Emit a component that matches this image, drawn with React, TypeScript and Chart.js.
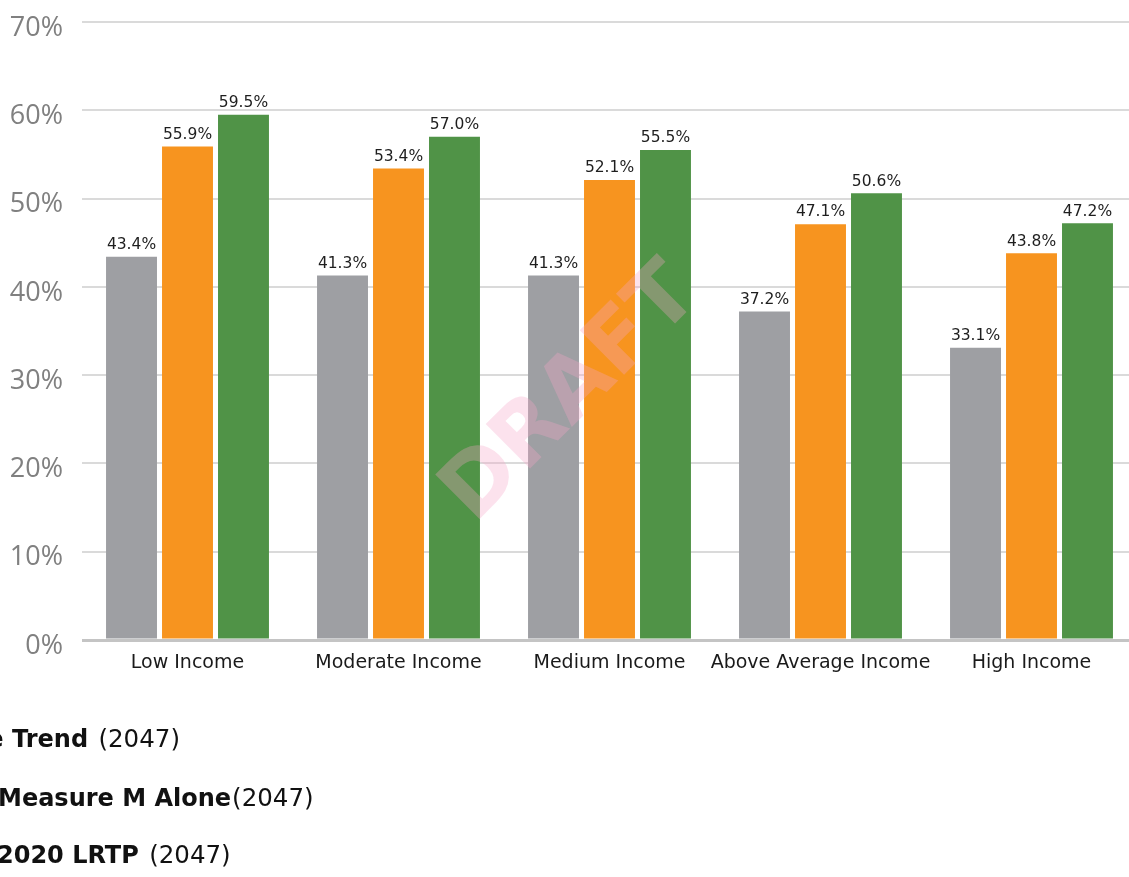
import React, { useEffect, useRef } from "react";
import { Chart, registerables } from "chart.js";

Chart.register(...registerables);

const categories = [
  "Low Income",
  "Moderate Income",
  "Medium Income",
  "Above Average Income",
  "High Income",
];
const baselineValues = [43.4, 41.3, 41.3, 37.2, 33.1];
const measureMValues = [55.9, 53.4, 52.1, 47.1, 43.8];
const lrtpValues = [59.5, 57.0, 55.5, 50.6, 47.2];
const yMin = 0;
const yMax = 70;
const yStep = 10;
const legendBold = ["Baseline Trend", "Measure M Alone", "2020 LRTP"];
const legendSep = [" ", "", " "];
const legendYear = "(2047)";
const watermark = "DRAFT";

const FONT = "'DejaVu Sans', sans-serif";
const TICK_FONT = "'Open Sans', sans-serif";

const dataLabelPlugin = {
  id: "dataLabels",
  afterDatasetsDraw(chart: any) {
    const ctx = chart.ctx;
    ctx.save();
    ctx.font = `15.5px ${FONT}`;
    ctx.fillStyle = "#1e1e1e";
    ctx.textAlign = "center";
    ctx.textBaseline = "bottom";
    chart.data.datasets.forEach((ds: any, i: number) => {
      const meta = chart.getDatasetMeta(i);
      meta.data.forEach((bar: any, j: number) => {
        const v = ds.data[j];
        ctx.fillText(v.toFixed(1) + "%", bar.x, bar.y - 4);
      });
    });
    ctx.restore();
  },
};

const watermarkPlugin = {
  id: "watermark",
  afterDatasetsDraw(chart: any) {
    const ctx = chart.ctx;
    ctx.save();
    ctx.translate(572, 395);
    ctx.rotate(-Math.PI / 4);
    ctx.font = `bold 86px ${FONT}`;
    ctx.fillStyle = "rgba(245,165,200,0.32)";
    ctx.textAlign = "center";
    ctx.textBaseline = "middle";
    ctx.fillText(watermark, 0, 0);
    ctx.restore();
  },
};

const legendPlugin = {
  id: "customLegend",
  afterDraw(chart: any) {
    const ctx = chart.ctx;
    ctx.save();
    ctx.textBaseline = "middle";
    ctx.textAlign = "left";
    ctx.fillStyle = "#111111";
    const ys = [741, 800, 857];
    legendBold.forEach((b, i) => {
      ctx.font = `bold 24px ${FONT}`;
      let x0 = -2;
      if (i === 0) {
        x0 = 12 - ctx.measureText("Baseline ").width;
      }
      if (i === 2) x0 = -3;
      ctx.fillText(b, x0, ys[i]);
      const w = ctx.measureText(b + legendSep[i]).width;
      ctx.font = `24.5px ${FONT}`;
      ctx.fillText(legendYear, x0 + w + (legendSep[i] ? 2 : 1), ys[i]);
    });
    ctx.restore();
  },
};

export default function App() {
  const ref = useRef<HTMLCanvasElement | null>(null);
  useEffect(() => {
    if (!ref.current) return;
    const chart = new Chart(ref.current, {
      type: "bar",
      data: {
        labels: categories,
        datasets: [
          { label: legendBold[0], data: baselineValues, backgroundColor: "#9e9fa3" },
          { label: legendBold[1], data: measureMValues, backgroundColor: "#f7941f" },
          { label: legendBold[2], data: lrtpValues, backgroundColor: "#509347" },
        ],
      },
      options: {
        responsive: false,
        animation: false,
        maintainAspectRatio: false,
        layout: { padding: { top: 22, right: 3, left: 0, bottom: 0 } },
        datasets: {
          bar: { categoryPercentage: 0.796, barPercentage: 0.91 },
        } as any,
        plugins: {
          legend: { display: false },
          tooltip: { enabled: false },
        },
        scales: {
          x: {
            grid: { display: false, drawTicks: false },
            border: { display: false },
            ticks: {
              padding: 12,
              color: "#1a1a1a",
              font: { family: FONT, size: 19 },
              maxRotation: 0,
              autoSkip: false,
            },
            afterFit: (scale: any) => {
              scale.height = 237;
              scale.paddingLeft = 0;
              scale.paddingRight = 0;
            },
          },
          y: {
            min: yMin,
            max: yMax,
            grid: {
              drawTicks: false,
              color: (c: any) => (c.tick && c.tick.value === 0 ? "#c4c4c4" : "#dadada"),
              lineWidth: (c: any) => (c.tick && c.tick.value === 0 ? 3 : 2),
            },
            border: { display: false },
            ticks: {
              stepSize: yStep,
              padding: 19,
              labelOffset: 6,
              color: "#808080",
              font: { family: TICK_FONT, size: 27 },
              callback: (v: any) => v + "%",
            },
            afterFit: (scale: any) => {
              scale.width = 82;
              scale.paddingTop = 0;
              scale.paddingBottom = 0;
            },
          },
        },
      },
      plugins: [dataLabelPlugin, watermarkPlugin, legendPlugin],
    });
    return () => chart.destroy();
  }, []);
  return (
    <div
      style={{
        position: "absolute",
        left: 0,
        top: 0,
        width: 1129,
        height: 877,
        overflow: "hidden",
        background: "#ffffff",
      }}
    >
      <canvas ref={ref} width={1140} height={877} style={{ display: "block", width: 1140, height: 877 }} />
    </div>
  );
}
